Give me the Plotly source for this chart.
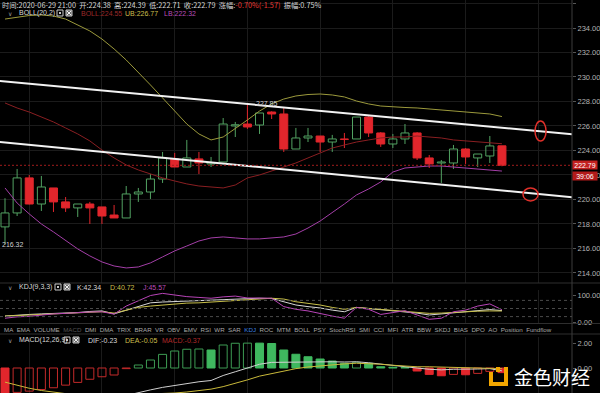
import plotly.graph_objects as go

W, H = 600, 393

# ---------------- data ----------------
opens = [217.76, 218.90, 221.76, 219.63, 220.94, 219.80, 219.31, 219.63, 219.39, 218.73,
         218.49, 220.45, 220.61, 221.67, 223.31, 222.65, 223.31, 222.90, 223.06, 226.00,
         226.16, 226.08, 227.14, 226.98, 224.12, 225.02, 225.18, 224.69, 224.94, 224.94,
         226.73, 225.43, 224.53, 224.94, 225.43, 223.39, 222.98, 222.98, 224.12, 223.39,
         223.55, 224.38]
highs = [220.10, 222.49, 222.00, 221.92, 220.94, 220.20, 219.63, 219.80, 219.39, 219.55,
         221.10, 220.94, 222.08, 223.88, 223.80, 224.86, 223.88, 223.47, 226.65, 226.33,
         227.85, 227.06, 227.20, 227.47, 225.84, 225.84, 225.18, 225.27, 225.43, 226.73,
         226.80, 225.50, 225.35, 226.16, 225.50, 223.63, 223.22, 224.45, 224.20, 223.71,
         225.18, 224.39]
lows = [216.32, 218.65, 219.60, 219.06, 218.98, 218.98, 218.57, 218.00, 218.00, 218.49,
        218.49, 219.80, 220.04, 221.35, 222.65, 222.65, 222.08, 222.65, 223.06, 225.10,
        225.76, 225.35, 226.57, 223.88, 224.12, 224.69, 223.88, 223.88, 224.20, 224.94,
        225.10, 224.29, 224.20, 224.53, 223.22, 222.57, 221.35, 222.49, 222.90, 222.65,
        222.98, 222.71]
closes = [218.90, 221.76, 219.63, 221.02, 219.80, 219.31, 219.63, 219.31, 218.65, 218.49,
          220.45, 220.61, 221.67, 223.39, 222.65, 223.39, 222.98, 223.00, 226.16, 226.10,
          225.92, 227.06, 226.98, 224.12, 225.02, 225.18, 224.69, 224.94, 224.90, 226.73,
          225.43, 224.53, 224.94, 225.43, 223.39, 222.90, 223.06, 224.12, 223.47, 223.71,
          224.37, 222.79]

boll_ub = [234.73, 234.90, 235.02, 235.06, 234.98, 234.73, 234.24, 233.76, 233.10, 232.29,
           231.39, 230.41, 229.35, 228.29, 227.22, 226.16, 225.35, 224.86, 225.10, 225.76,
           226.49, 227.22, 227.80, 228.20, 228.45, 228.57, 228.61, 228.53, 228.37, 228.04,
           227.80, 227.63, 227.55, 227.51, 227.47, 227.39, 227.31, 227.22, 227.14, 227.06,
           226.98, 226.77]
boll_mid = [227.88, 227.47, 227.14, 226.73, 226.33, 225.84, 225.35, 224.78, 224.04, 223.39,
            222.82, 222.41, 222.08, 221.76, 221.51, 221.27, 221.10, 221.02, 220.94, 221.18,
            221.76, 222.00, 222.33, 222.65, 222.98, 223.39, 223.80, 224.20, 224.45, 224.69,
            224.86, 225.02, 225.10, 225.10, 225.18, 225.10, 225.02, 224.86, 224.78, 224.69,
            224.61, 224.55]
boll_lb = [220.94, 219.71, 218.82, 218.00, 217.35, 216.69, 215.96, 215.39, 214.90, 214.57,
           214.41, 214.49, 214.82, 215.31, 215.80, 216.20, 216.61, 216.86, 216.94, 216.86,
           216.78, 216.78, 216.86, 216.94, 217.18, 217.67, 218.24, 218.90, 219.63, 220.37,
           220.86, 221.43, 222.24, 222.57, 222.65, 222.73, 222.73, 222.65, 222.57, 222.49,
           222.41, 222.32]

kdj_k = [22, 26, 28, 30, 31, 33, 35, 39, 41, 30, 44, 59, 71, 74, 76, 78, 79, 81, 83, 85,
         87, 88, 87, 74, 63, 57, 52, 44, 38, 54, 50, 46, 43, 39, 33, 26, 30, 35, 39, 44,
         46, 42.34]
kdj_d = [22, 24, 26, 28, 30, 31, 33, 36, 38, 33, 44, 54, 59, 63, 67, 70, 71, 74, 78, 81,
         84, 87, 88, 85, 75, 69, 63, 54, 47, 54, 50, 46, 43, 39, 35, 32, 33, 36, 38, 40,
         41, 40.72]
kdj_j = [14, 19, 21, 26, 30, 32, 35, 37, 38, 29, 59, 78, 98, 106, 100, 94, 91, 88, 93, 96,
         89, 88, 88, 57, 47, 41, 31, 22, 14, 54, 47, 28, 35, 42, 26, 10, 14, 38, 44, 59,
         67, 45.57]

macd_hist = [-2.10, -1.95, -1.85, -1.72, -1.58, -1.37, -1.15, -0.90, -0.70, -0.56,
             -0.05, 0.24, 0.64, 1.09, 1.36, 1.50, 1.52, 1.44, 1.84, 1.98,
             1.99, 1.99, 1.96, 1.44, 1.10, 0.90, 0.72, 0.56, 0.38, 0.46,
             0.38, 0.10, 0.06, 0.04, -0.24, -0.51, -0.62, -0.51, -0.54, -0.43,
             -0.27, -0.37]
macd_dif = [-2.16, -2.34, -2.50, -2.60, -2.68, -2.70, -2.68, -2.60, -2.50, -2.40,
            -2.20, -1.95, -1.75, -1.55, -1.38, -1.22, -1.10, -1.00, -0.60, -0.30,
            0.00, 0.30, 0.45, 0.47, 0.48, 0.50, 0.50, 0.50, 0.48, 0.50,
            0.42, 0.30, 0.20, 0.12, 0.00, -0.10, -0.15, -0.10, -0.12, -0.08,
            -0.05, -0.23]
macd_dea = [-1.13, -1.40, -1.62, -1.80, -1.95, -2.05, -2.12, -2.16, -2.18, -2.18,
            -2.15, -2.12, -2.08, -2.04, -2.00, -1.92, -1.82, -1.69, -1.49, -1.25,
            -0.95, -0.65, -0.45, -0.22, -0.05, 0.08, 0.18, 0.27, 0.33, 0.38,
            0.35, 0.30, 0.22, 0.15, 0.10, 0.10, 0.08, 0.06, 0.04, 0.02,
            0.00, -0.05]

price_ticks = [214, 216, 218, 220, 222, 224, 226, 228, 230, 232, 234, 236]
kdj_ticks = [0, 100]
macd_ticks = [-2, 0, 2]
grid_idx = [2, 8, 14, 20, 26, 32, 38, 44]

upper_trend_x = [-1, 47]
upper_trend_y = [229.72, 225.31]
lower_trend_x = [-1, 47]
lower_trend_y = [224.75, 220.17]

tab_labels = ["MA", "EMA", "VOLUME", "MACD", "DMI", "DMA", "TRIX", "BRAR", "VR", "OBV",
              "EMV", "RSI", "WR", "SAR", "KDJ", "ROC", "MTM", "BOLL", "PSY", "StochRSI",
              "SMI", "CCI", "MFI", "ATR", "BBW", "SKDJ", "BIAS", "DPO", "AO", "Position",
              "Fundflow"]

# ---------------- styles ----------------
GREEN = "#52a262"
RED = "#e2262c"
M_GREEN_FILL = "#3fb85f"
M_GREEN_LINE = "#3d9b53"
GRID = "#1b1b1b"
FONT = "Liberation Sans"


def px(x):
    return x / W


def py(y):
    return 1 - y / H


idx = list(range(len(opens)))
up = [c >= o for o, c in zip(opens, closes)]

fig = go.Figure()

# candle bodies
fig.add_trace(go.Bar(
    x=idx, y=[abs(c - o) for o, c in zip(opens, closes)],
    base=[min(o, c) for o, c in zip(opens, closes)],
    width=0.66,
    marker=dict(color=["rgba(0,0,0,0)" if u else RED for u in up],
                line=dict(color=[GREEN if u else RED for u in up], width=1)),
    xaxis="x", yaxis="y", hoverinfo="skip"))

# wicks
for flag, col in [(True, GREEN), (False, RED)]:
    xs, ys = [], []
    for i in idx:
        if up[i] != flag:
            continue
        top = max(opens[i], closes[i])
        bot = min(opens[i], closes[i])
        xs += [i, i, None, i, i, None]
        ys += [highs[i], top, None, bot, lows[i], None]
    fig.add_trace(go.Scatter(x=xs, y=ys, mode="lines", line=dict(color=col, width=1),
                             xaxis="x", yaxis="y", hoverinfo="skip"))

# BOLL
fig.add_trace(go.Scatter(x=idx, y=boll_ub, mode="lines", line=dict(color="#9c9a3c", width=1),
                         xaxis="x", yaxis="y", hoverinfo="skip"))
fig.add_trace(go.Scatter(x=idx, y=boll_mid, mode="lines", line=dict(color="#8a1f22", width=1),
                         xaxis="x", yaxis="y", hoverinfo="skip"))
fig.add_trace(go.Scatter(x=idx, y=boll_lb, mode="lines", line=dict(color="#a43fa8", width=1),
                         xaxis="x", yaxis="y", hoverinfo="skip"))

# trend lines
for tx, ty in [(upper_trend_x, upper_trend_y), (lower_trend_x, lower_trend_y)]:
    fig.add_trace(go.Scatter(x=tx, y=ty, mode="lines", line=dict(color="#f2f2f2", width=2),
                             xaxis="x", yaxis="y", hoverinfo="skip"))

# KDJ
fig.add_trace(go.Scatter(x=idx, y=kdj_k, mode="lines", line=dict(color="#d8d8d8", width=1),
                         xaxis="x2", yaxis="y2", hoverinfo="skip"))
fig.add_trace(go.Scatter(x=idx, y=kdj_d, mode="lines", line=dict(color="#c9c04a", width=1),
                         xaxis="x2", yaxis="y2", hoverinfo="skip"))
fig.add_trace(go.Scatter(x=idx, y=kdj_j, mode="lines", line=dict(color="#b844b8", width=1),
                         xaxis="x2", yaxis="y2", hoverinfo="skip"))

# MACD histogram
m_fill, m_line = [], []
for i, v in enumerate(macd_hist):
    rising = i > 0 and v > macd_hist[i - 1]
    if v >= 0:
        m_line.append(M_GREEN_LINE if rising else M_GREEN_FILL)
        m_fill.append("rgba(0,0,0,0)" if rising else M_GREEN_FILL)
    else:
        m_line.append(RED if not rising else "#c42a2a")
        m_fill.append("rgba(0,0,0,0)" if rising else RED)
fig.add_trace(go.Bar(x=idx, y=macd_hist, width=0.66,
                     marker=dict(color=m_fill, line=dict(color=m_line, width=1)),
                     xaxis="x3", yaxis="y3", hoverinfo="skip"))
fig.add_trace(go.Scatter(x=idx, y=macd_dif, mode="lines", line=dict(color="#d0d0d0", width=1),
                         xaxis="x3", yaxis="y3", hoverinfo="skip"))
fig.add_trace(go.Scatter(x=idx, y=macd_dea, mode="lines", line=dict(color="#c9b93a", width=1),
                         xaxis="x3", yaxis="y3", hoverinfo="skip"))

XR = [-0.4125, 46.78]
XD = [0, px(572)]
xcommon = dict(range=XR, domain=XD, tickvals=grid_idx, showticklabels=False, showgrid=True,
               gridcolor=GRID, gridwidth=1, zeroline=False, showline=False, ticks="",
               fixedrange=True)
ycommon = dict(side="right", zeroline=False, showline=False,
               ticks="outside", ticklen=3, tickcolor="#555",
               tickfont=dict(family=FONT, size=7.5, color="#b4b4b4"), fixedrange=True)

layout = dict(
    width=W, height=H, margin=dict(l=0, r=0, t=0, b=0, autoexpand=False),
    paper_bgcolor="#000", plot_bgcolor="#000", showlegend=False, barmode="overlay",
    xaxis=dict(anchor="y", **xcommon),
    xaxis2=dict(anchor="y2", matches="x", **xcommon),
    xaxis3=dict(anchor="y3", matches="x", **xcommon),
    yaxis=dict(anchor="x", domain=[py(283), 1], range=[213.18, 236.286], showgrid=True,
               gridcolor=GRID,
               tickvals=price_ticks, ticktext=[f"{t:.2f}" for t in price_ticks], **ycommon),
    yaxis2=dict(anchor="x2", domain=[py(324), py(290)], range=[-7.41, 118.52], showgrid=False,
                tickvals=kdj_ticks, ticktext=[f"{t:.2f}" for t in kdj_ticks], **ycommon),
    yaxis3=dict(anchor="x3", domain=[0, py(337)], range=[-2.0, 2.48], showgrid=False,
                tickvals=macd_ticks, ticktext=[f"{t:.2f}" for t in macd_ticks], **ycommon),
)
fig.update_layout(**layout)

shapes = []
ann = []

# separators & axis line
for yy in [283, 323.5, 334]:
    shapes.append(dict(type="line", xref="paper", yref="paper", x0=0, x1=1, y0=py(yy), y1=py(yy),
                       line=dict(color="#2e2e2e", width=1)))
shapes.append(dict(type="line", xref="paper", yref="paper", x0=px(572), x1=px(572), y0=0, y1=1,
                   line=dict(color="#3c3c3c", width=1)))

# KDJ reference dashed lines
for lv in [80, 50, 20]:
    shapes.append(dict(type="line", xref="paper", yref="y2", x0=0, x1=px(572), y0=lv, y1=lv,
                       line=dict(color="#4a4a4a", width=1, dash="3px,3px")))

# current price dashed line
last = closes[-1]
shapes.append(dict(type="line", xref="paper", yref="y", x0=0, x1=px(572), y0=last, y1=last,
                   line=dict(color="#a01c1c", width=1, dash="2px,2px")))

# red ellipses
shapes.append(dict(type="circle", xref="x", yref="y", x0=43.73, x1=44.64, y0=224.77, y1=226.40,
                   line=dict(color="#e0302a", width=1.5)))
shapes.append(dict(type="circle", xref="x", yref="y", x0=42.74, x1=43.98, y0=219.88, y1=220.94,
                   line=dict(color="#e0302a", width=1.5)))


def header_icons(x0, yc):
    s = []
    s.append(dict(type="rect", xref="paper", yref="paper", x0=px(x0), x1=px(x0 + 6),
                  y0=py(yc + 3), y1=py(yc - 3), line=dict(color="#c8c8c8", width=1)))
    s.append(dict(type="rect", xref="paper", yref="paper", x0=px(x0 + 2), x1=px(x0 + 4),
                  y0=py(yc + 1), y1=py(yc - 1), line=dict(width=0), fillcolor="#c8c8c8"))
    s.append(dict(type="rect", xref="paper", yref="paper", x0=px(x0 + 9), x1=px(x0 + 15),
                  y0=py(yc + 3), y1=py(yc - 3), line=dict(color="#c8c8c8", width=1),
                  fillcolor="#6a6a6a"))
    s.append(dict(type="line", xref="paper", yref="paper", x0=px(x0 + 10), x1=px(x0 + 14),
                  y0=py(yc + 2), y1=py(yc - 2), line=dict(color="#eee", width=1)))
    s.append(dict(type="line", xref="paper", yref="paper", x0=px(x0 + 10), x1=px(x0 + 14),
                  y0=py(yc - 2), y1=py(yc + 2), line=dict(color="#eee", width=1)))
    return s


shapes += header_icons(57, 13)
shapes += header_icons(55, 287)
shapes += header_icons(64, 340)

# logo icon
LOGO = "#f2a600"
for (a, b, c, d) in [(496, 500, 367, 372), (504, 508, 367, 386), (489, 508, 382, 386),
                     (489, 493, 372, 386)]:
    shapes.append(dict(type="rect", xref="paper", yref="paper", x0=px(a), x1=px(b),
                       y0=py(d), y1=py(c), line=dict(width=0), fillcolor=LOGO))


def text(x, y, s, size=7, color="#c8c8c8", family=FONT, anchor="left", **kw):
    ann.append(dict(xref="paper", yref="paper", x=px(x), y=py(y), text=s, showarrow=False,
                    xanchor=anchor, yanchor="middle",
                    font=dict(family=family, size=size, color=color), **kw))


NB = "\u00a0\u00a0"
hdr = (f"时间:2020-06-29 21:00{NB}开:{opens[-1]:.2f}{NB}高:{highs[-1]:.2f}{NB}"
       f"低:{lows[-1]:.2f}{NB}收:{closes[-1]:.2f}{NB}涨幅:"
       f"<span style='color:#e53935'>-0.70%(-1.57)</span>{NB}振幅:0.75%")
text(0, 5, hdr, size=7.3, family="Noto Sans CJK SC", color="#d4d4d4")

# BOLL header
text(6, 13, "∨", size=6, color="#999", family="DejaVu Sans")
text(17, 13, "BOLL(20,2)", size=7, color="#d8d8d8")
text(79, 13, f"BOLL:{boll_mid[-1]:.2f}", size=7, color="#9c2a2a")
text(123, 13, f"UB:{boll_ub[-1]:.2f}", size=7, color="#cdbf4c")
text(162, 13, f"LB:{boll_lb[-1]:.2f}", size=7, color="#b84cb8")

# KDJ header
text(6, 287, "∨", size=6, color="#999", family="DejaVu Sans")
text(17, 287, "KDJ(9,3,3)", size=7, color="#d8d8d8")
text(75, 287, f"K:{kdj_k[-1]:.2f}", size=7, color="#d8d8d8")
text(108, 287, f"D:{kdj_d[-1]:.2f}", size=7, color="#cdbf4c")
text(141, 287, f"J:{kdj_j[-1]:.2f}", size=7, color="#b84cb8")

# MACD header
text(6, 340, "∨", size=6, color="#999", family="DejaVu Sans")
text(17, 340, "MACD(12,26,9)", size=7, color="#d8d8d8")
text(86, 340, f"DIF:{macd_dif[-1]:.2f}", size=7, color="#d8d8d8")
text(123, 340, f"DEA:{macd_dea[-1]:.2f}", size=7, color="#cdbf4c")
text(160, 340, f"MACD:{macd_hist[-1]:.2f}", size=7, color="#b02a2a")

# tabs
parts = []
for lab in tab_labels:
    col = "#a8a8a8"
    if lab == "MACD":
        col = "#555555"
    elif lab == "KDJ":
        col = "#3d80e0"
    parts.append(f"<span style='color:{col}'>{lab}</span>")
text(2, 329, NB.join(parts), size=6.2, color="#a8a8a8")

# price label boxes
ann.append(dict(xref="paper", yref="y", x=px(572), y=last, text=f"{last:.2f}", showarrow=False,
                xanchor="left", yanchor="middle", width=24, height=8, bgcolor="#c3201f",
                borderpad=0, font=dict(family=FONT, size=7, color="#fff")))
ann.append(dict(xref="paper", yref="y", x=px(572), y=last, yshift=-11, text="39:06",
                showarrow=False, xanchor="left", yanchor="middle", width=24, height=8,
                bgcolor="#b31b1b", borderpad=0, font=dict(family=FONT, size=7, color="#fff")))

# high / low labels
hi_i = max(idx, key=lambda i: highs[i])
lo_i = min(idx, key=lambda i: lows[i])
ann.append(dict(xref="x", yref="y", x=hi_i, y=highs[hi_i], text=f"{highs[hi_i]:.2f}",
                showarrow=False, xanchor="left", yanchor="middle", xshift=7,
                font=dict(family=FONT, size=7, color="#d0d0d0")))
ann.append(dict(xref="x", yref="y", x=lo_i, y=lows[lo_i], text=f"{lows[lo_i]:.2f}",
                showarrow=False, xanchor="left", yanchor="middle", xshift=-5,
                font=dict(family=FONT, size=7, color="#d0d0d0")))

# logo text
text(512, 376, "金色财经", size=19, color="#ffffff", family="Noto Sans CJK SC")

fig.update_layout(shapes=shapes, annotations=ann)
fig.write_html("out.html", config={"displayModeBar": False},
               post_script="document.body.style.margin='0';document.body.style.overflow='hidden';")
